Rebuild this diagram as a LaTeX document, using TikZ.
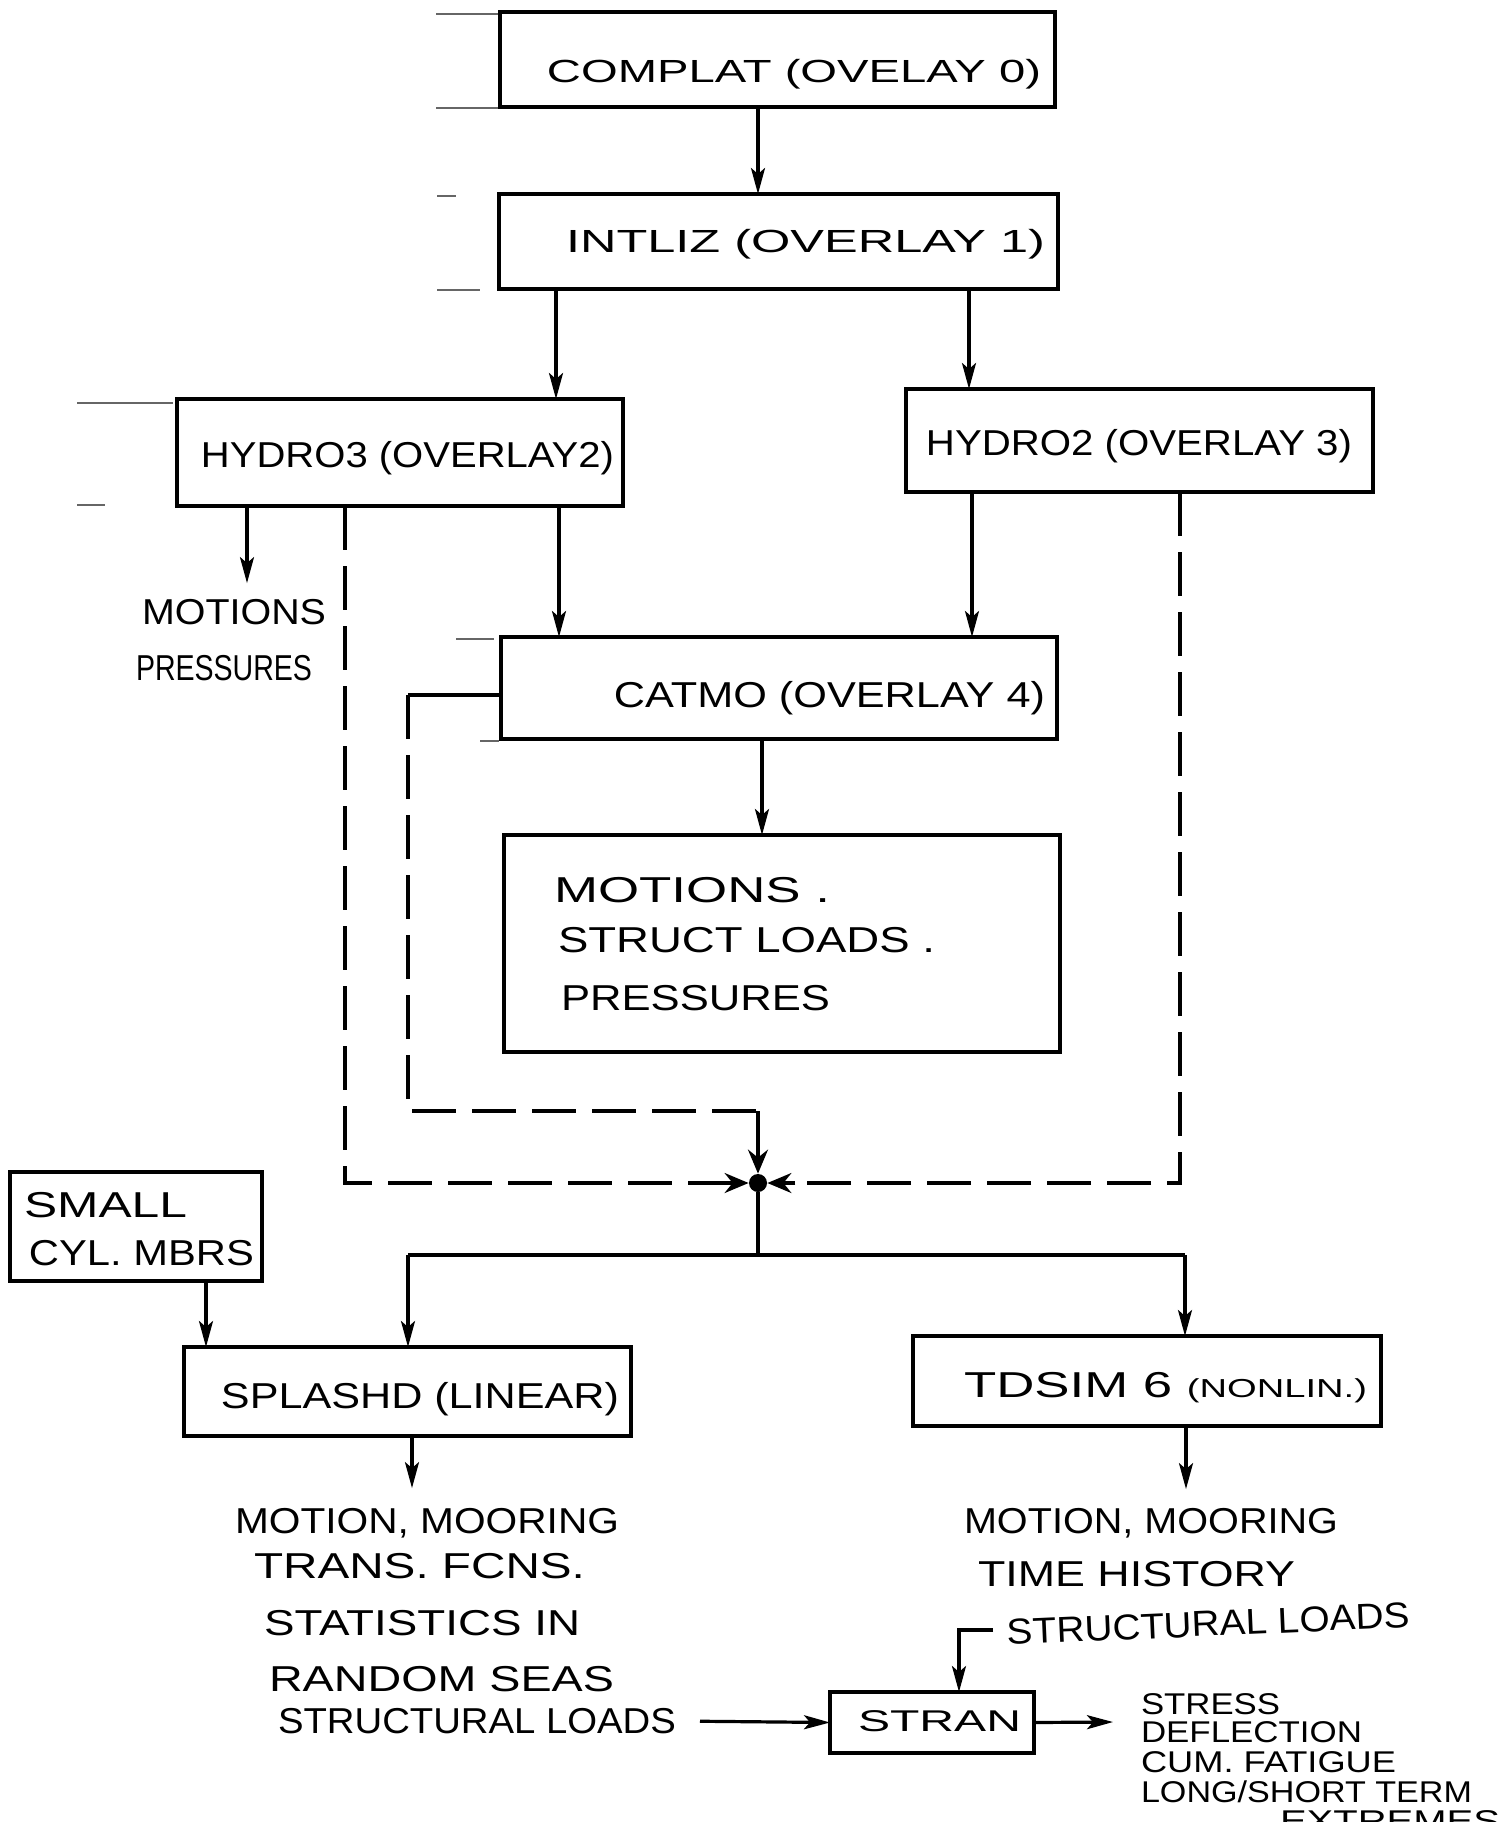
\documentclass[tikz,border=0pt]{standalone}
\usepackage{fontspec}
\setmainfont{Liberation Sans}
\usetikzlibrary{arrows.meta}
\newcommand\hw[2]{\resizebox{#1}{\height}{#2}}
\begin{document}
\begin{tikzpicture}[x=0.5pt,y=-0.5pt,
  box/.style={draw, line width=2.4pt, inner sep=0pt, outer sep=0pt},
  lbl/.style={inner sep=0pt, outer sep=0pt, text height=12.9pt, text depth=0pt, font=\fontsize{18}{20}\selectfont},
  lbm/.style={inner sep=0pt, outer sep=0pt, text height=11.5pt, text depth=0pt, font=\fontsize{16}{18}\selectfont},
  lbs/.style={inner sep=0pt, outer sep=0pt, text height=10.7pt, text depth=0pt, font=\fontsize{15}{17}\selectfont},
  conn/.style={line width=1.6pt},
  arr/.style={line width=1.6pt, -{Stealth[length=13pt,width=7pt,inset=3pt]}},
  bigarr/.style={line width=1.6pt, -{Stealth[length=12pt,width=10pt,inset=4pt]}},
  dsh/.style={line width=1.6pt, dash pattern=on 22pt off 8pt},
  sheetmark/.style={line width=0.6pt, black!60}]
\useasboundingbox (0,0) rectangle (1504,1822);
\fill[white] (0,0) rectangle (1504,1822);
\clip (0,0) rectangle (1504,1822);

% faint sheet marks
\draw[sheetmark] (436,14) -- (500,14);
\draw[sheetmark] (436,108) -- (500,108);
\draw[sheetmark] (437,196) -- (456,196);
\draw[sheetmark] (437,290) -- (480,290);
\draw[sheetmark] (77,403) -- (173,403);
\draw[sheetmark] (77,505) -- (105,505);
\draw[sheetmark] (456,639) -- (494,639);
\draw[sheetmark] (480,741) -- (499,741);

% boxes
\node[box, minimum width=277.5pt, minimum height=47.5pt] (complat) at (777.5,59.5) {};
\node[box, minimum width=279.5pt, minimum height=47.5pt] (intliz) at (778.5,241.5) {};
\node[box, minimum width=223pt, minimum height=53.5pt] (hydro3) at (400,452.5) {};
\node[box, minimum width=233.5pt, minimum height=51.5pt] (hydro2) at (1139.5,440.5) {};
\node[box, minimum width=278pt, minimum height=51pt] (catmo) at (779,688) {};
\node[box, minimum width=278pt, minimum height=108.5pt] (results) at (782,943.5) {};
\node[box, minimum width=126pt, minimum height=54.5pt] (small) at (136,1226.5) {};
\node[box, minimum width=223.5pt, minimum height=44.5pt] (splashd) at (407.5,1391.5) {};
\node[box, minimum width=234pt, minimum height=45pt] (tdsim) at (1147,1381) {};
\node[box, minimum width=102pt, minimum height=30.5pt] (stran) at (932,1722.5) {};

% box labels
\node[lbm] (tcomplat) at (794,71) {\hw{247pt}{COMPLAT (OVELAY 0)}};
\node[lbm] (tintliz) at (805.5,241) {\hw{239.5pt}{INTLIZ (OVERLAY 1)}};
\node[lbl] (thydro3) at (407.5,455) {\hw{206.5pt}{HYDRO3 (OVERLAY2)}};
\node[lbl] (thydro2) at (1139,443) {\hw{213pt}{HYDRO2 (OVERLAY 3)}};
\node[lbl] (tcatmo) at (829.5,695) {\hw{215.5pt}{CATMO (OVERLAY 4)}};
\node[lbl, anchor=west] (res1) at (554,890) {\hw{138pt}{MOTIONS .}};
\node[lbl, anchor=west] (res2) at (558,940) {\hw{188.5pt}{STRUCT LOADS .}};
\node[lbl, anchor=west] (res3) at (561,998) {\hw{134.5pt}{PRESSURES}};
\node[lbl, anchor=west] (tsmall1) at (24,1205) {\hw{81.5pt}{SMALL}};
\node[lbl, anchor=west] (tsmall2) at (29,1253) {\hw{112.5pt}{CYL. MBRS}};
\node[lbl] (tsplashd) at (420,1396) {\hw{199pt}{SPLASHD (LINEAR)}};
\node[lbl] (ttdsim) at (1165.5,1385) {\hw{201.5pt}{TDSIM 6 {\fontsize{13}{15}\selectfont(NONLIN.)}}};
\node[lbs] (tstran) at (939.5,1721) {\hw{81.5pt}{STRAN}};

% free labels
\node[lbl, anchor=west] (motl1) at (142,612) {\hw{92pt}{MOTIONS}};
\node[lbl, anchor=west] (motl2) at (136,668) {\hw{88pt}{PRESSURES}};
\node[lbl, anchor=west] (l1) at (235,1521) {\hw{192pt}{MOTION, MOORING}};
\node[lbl, anchor=west] (l2) at (254,1566) {\hw{165.5pt}{TRANS. FCNS.}};
\node[lbl, anchor=west] (l3) at (264,1623) {\hw{158pt}{STATISTICS IN}};
\node[lbl, anchor=west] (l4) at (269,1679) {\hw{172.5pt}{RANDOM SEAS}};
\node[lbl, anchor=west] (l5) at (278,1721) {\hw{199pt}{STRUCTURAL LOADS}};
\node[lbl, anchor=west] (r1) at (964,1521) {\hw{187pt}{MOTION, MOORING}};
\node[lbl, anchor=west] (r2) at (978,1574) {\hw{158.5pt}{TIME HISTORY}};
\node[lbl, anchor=west, rotate=2.5] (r3) at (1007,1632) {\hw{201.5pt}{STRUCTURAL LOADS}};
\node[lbs, anchor=west] (o1) at (1141,1704) {\hw{69.5pt}{STRESS}};
\node[lbs, anchor=west] (o2) at (1141,1732) {\hw{110.5pt}{DEFLECTION}};
\node[lbs, anchor=west] (o3) at (1141,1762) {\hw{127.5pt}{CUM. FATIGUE}};
\node[lbs, anchor=west] (o4) at (1141,1792) {\hw{165.5pt}{LONG/SHORT TERM}};
\node[lbs, anchor=west] (o5) at (1280,1821) {\hw{110pt}{EXTREMES}};

% column coordinates
\coordinate (c758) at (758,0);
\coordinate (c556) at (556,0);
\coordinate (c969) at (969,0);
\coordinate (c247) at (247,0);
\coordinate (c345) at (345,0);
\coordinate (c559) at (559,0);
\coordinate (c972) at (972,0);
\coordinate (c1180) at (1180,0);
\coordinate (c762) at (762,0);
\coordinate (c206) at (206,0);
\coordinate (c412) at (412,0);
\coordinate (c1186) at (1186,0);

% top chain
\draw[arr] (complat.south -| c758) -- (intliz.north -| c758);
\draw[arr] (intliz.south -| c556) -- (hydro3.north -| c556);
\draw[arr] (intliz.south -| c969) -- (hydro2.north -| c969);
\draw[arr, shorten >=8pt] (hydro3.south -| c247) -- (motl1.north -| c247);
\draw[arr] (hydro3.south -| c559) -- (catmo.north -| c559);
\draw[arr] (hydro2.south -| c972) -- (catmo.north -| c972);
\draw[arr] (catmo.south -| c762) -- (results.north -| c762);

% junction
\node[circle, fill, inner sep=0pt, minimum size=9pt] (jn) at (758,1183) {};
\coordinate (stubA) at (408,695);
\coordinate (cornerA) at (408,1111);
\coordinate (cornerB) at (758,1111);
\coordinate (dL) at (345,1183);
\coordinate (dR) at (1180,1183);
\draw[conn] (catmo.west |- stubA) -- (stubA);
\draw[dsh] (stubA) -- (cornerA) -- (cornerB);
\draw[bigarr] (cornerB) -- (jn);
\draw[dsh] (hydro3.south -| c345) -- (dL) -- ([xshift=-14pt]jn.west);
\draw[bigarr] ([xshift=-14pt]jn.west) -- (jn);
\draw[dsh] (hydro2.south -| c1180) -- (dR) -- ([xshift=14pt]jn.east);
\draw[bigarr] ([xshift=14pt]jn.east) -- (jn);

% distribution
\coordinate (jd) at (758,1255);
\coordinate (sL) at (408,1255);
\coordinate (sR) at (1185,1255);
\draw[conn] (jn) -- (jd);
\draw[conn] (sL) -- (sR);
\draw[arr] (sL) -- (splashd.north -| sL);
\draw[arr] (sR) -- (tdsim.north -| sR);
\draw[arr] (small.south -| c206) -- (splashd.north -| c206);

% outputs
\draw[arr, shorten >=10pt] (splashd.south -| c412) -- (l1.north -| c412);
\draw[arr, shorten >=9.5pt] (tdsim.south -| c1186) -- (r1.north -| c1186);
\draw[arr, shorten <=12pt] (l5.east) -- (stran.west);
\coordinate (oend) at (1113,1722);
\draw[arr] (stran.east) -- (oend);
\coordinate (bk1) at (993,1630);
\coordinate (bk2) at (959,1630);
\draw[arr] (bk1) -- (bk2) -- (stran.north -| bk2);
\end{tikzpicture}
\end{document}
